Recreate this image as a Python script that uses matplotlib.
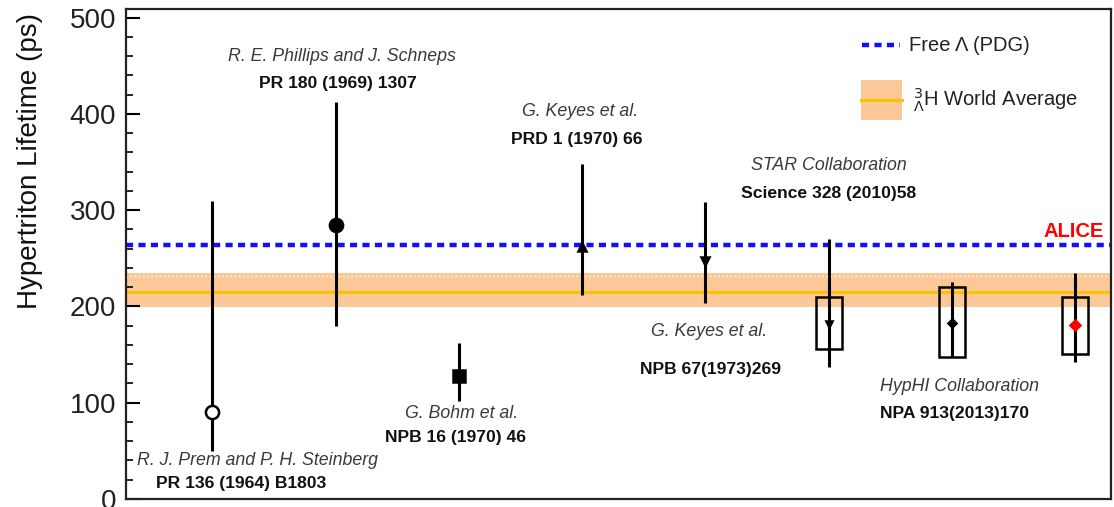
import matplotlib
matplotlib.use("Agg")
import matplotlib.pyplot as plt
from matplotlib.lines import Line2D
from matplotlib.patches import Rectangle
from matplotlib.ticker import MultipleLocator

plt.rcParams['font.family'] = ['Liberation Sans', 'DejaVu Sans']

# ---------------- data ----------------
positions = [1, 2, 3, 4, 5, 6, 7, 8]
lifetimes = [90, 285, 128, 262, 247, 182, 183, 181]
err_low = [40, 105, 26, 50, 43, 45, 35, 39]
err_high = [220, 127, 34, 86, 61, 88, 42, 54]
markers = ['o', 'o', 's', '^', 'v', 'v', 'D', 'D']
marker_sizes = [9.5, 9.5, 8.5, 6, 6, 5, 4.5, 5]
face_colors = ['white', 'black', 'black', 'black', 'black', 'black', 'black', 'red']
edge_colors = ['black', 'black', 'black', 'black', 'black', 'black', 'black', 'red']

syst_positions = [6, 7, 8]
syst_low = [156, 147, 151]
syst_high = [210, 220, 210]

free_lambda = 264
world_avg = 215
world_avg_low = 199
world_avg_high = 235

authors = ["R. J. Prem and P. H. Steinberg", "R. E. Phillips and J. Schneps",
           "G. Bohm et al.", "G. Keyes et al.", "G. Keyes et al.",
           "STAR Collaboration", "HypHI Collaboration"]
refs = ["PR 136 (1964) B1803", "PR 180 (1969) 1307", "NPB 16 (1970) 46",
        "PRD 1 (1970) 66", "NPB 67(1973)269", "Science 328 (2010)58",
        "NPA 913(2013)170"]
author_xy = [(1.365, 39.5), (2.05, 460), (3.02, 89), (3.98, 403), (5.03, 174),
             (6.0, 346), (7.06, 117)]
ref_xy = [(1.23, 15.6), (2.02, 432), (2.97, 64), (3.96, 373), (5.04, 135),
          (6.0, 317), (7.02, 89)]

BAND = '#fdc898'
GOLD = '#ffc000'
BLUE = '#1010ff'
DASH = (0, (1.6, 1.2))

# ---------------- figure ----------------
W, H = 1114, 507
fig = plt.figure(figsize=(W / 100, H / 100), dpi=100)
ax = fig.add_axes([126 / W, (H - 499) / H, (1111 - 126) / W, (499 - 9) / H])
ax.set_xlim(0.30, 8.29)
ax.set_ylim(0, 509)

# world average band
ax.axhspan(world_avg_low, world_avg_high, color=BAND, lw=0, zorder=1)
ax.axhline(world_avg, color=GOLD, lw=2.2, zorder=2)
ax.axhline(232, color='white', lw=1.0, ls=(0, (1, 2)), zorder=2)
# free lambda
ax.axhline(free_lambda, color=BLUE, lw=3.2, ls=DASH, zorder=2)

# points
for x, v, lo, hi, m, ms, fc, ec in zip(positions, lifetimes, err_low, err_high,
                                       markers, marker_sizes, face_colors, edge_colors):
    ax.errorbar([x], [v], yerr=[[lo], [hi]], fmt='none', ecolor='black',
                elinewidth=2.2, capsize=0, zorder=4)
    ax.plot([x], [v], marker=m, ms=ms, mfc=fc, mec=ec, mew=1.8, ls='none', zorder=5)

# systematic boxes
for x, lo, hi in zip(syst_positions, syst_low, syst_high):
    ax.add_patch(Rectangle((x - 0.105, lo), 0.21, hi - lo, fill=False,
                           ec='black', lw=1.8, zorder=3))

# annotations
for (x, y), t in zip(author_xy, authors):
    ax.text(x, y, t, ha='center', va='center', style='italic', fontsize=12.8,
            color='#3a3a3a', zorder=6)
for (x, y), t in zip(ref_xy, refs):
    ax.text(x, y, t, ha='center', va='center', weight='bold', fontsize=12.6,
            color='#111111', zorder=6)
ax.text(7.99, 277.5, "ALICE", ha='center', va='center', weight='bold',
        fontsize=14.5, color='#ff0000', zorder=6)

# legend (drawn in axes coordinates)
T = ax.transAxes
ax.add_line(Line2D([0.747, 0.786], [0.9265, 0.9265], transform=T, color=BLUE,
                   lw=3.2, ls=DASH, zorder=7))
ax.text(0.795, 0.9265, "Free \u039b (PDG)", transform=T, ha='left', va='center',
        fontsize=14.5, color='#222222', zorder=7)
ax.add_patch(Rectangle((0.746, 0.7735), 0.042, 0.0815, transform=T,
                       facecolor=BAND, edgecolor='none', zorder=7))
ax.add_line(Line2D([0.746, 0.788], [0.814, 0.814], transform=T, color=GOLD,
                   lw=2.2, zorder=8))
ax.text(0.799, 0.814, r"$^{3}_{\Lambda}$H World Average", transform=T,
        ha='left', va='center', fontsize=14.5, color='#222222', zorder=7)

# axes styling
ax.set_xticks([])
ax.yaxis.set_major_locator(MultipleLocator(100))
ax.yaxis.set_minor_locator(MultipleLocator(20))
ax.tick_params(axis='y', which='major', direction='in', length=10, width=1.5,
               labelsize=20, pad=7, labelcolor='#222222')
ax.tick_params(axis='y', which='minor', direction='in', length=5, width=1.2)
for s in ax.spines.values():
    s.set_linewidth(1.6)
    s.set_color('#222222')
ax.set_ylabel("Hypertriton Lifetime (ps)", fontsize=20, color='#111111')
lab = ax.yaxis.label
lab.set_rotation_mode('default')
lab.set_ha('center')
lab.set_va('top')
ax.yaxis.set_label_coords(-0.0975, 0.992)

fig.savefig("out.png", dpi=100)
